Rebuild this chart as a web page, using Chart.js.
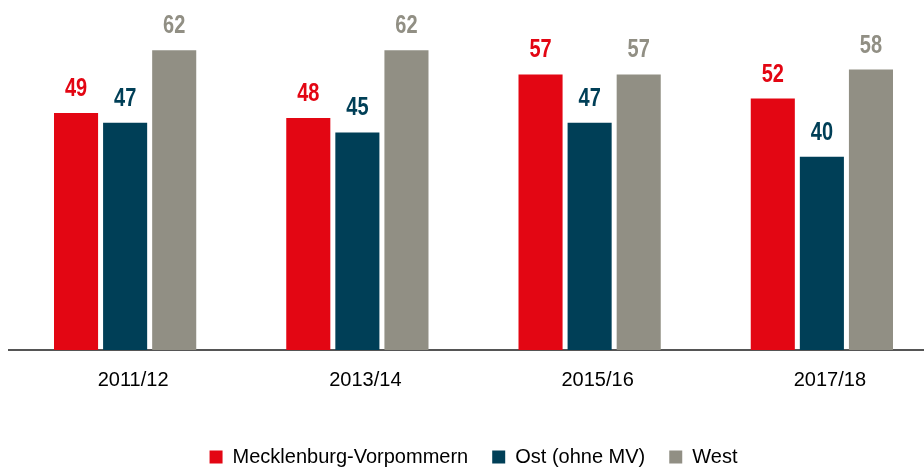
<!DOCTYPE html>
<html lang="de">
<head>
<meta charset="utf-8">
<script src="https://cdn.jsdelivr.net/npm/chart.js@4.4.0/dist/chart.umd.min.js"></script>
<style>
  html, body { margin: 0; padding: 0; background: #fff; overflow: hidden; }
  #wrap { width: 938px; height: 467px; position: relative; }
</style>
</head>
<body>
<div id="wrap"><canvas id="chart"></canvas></div>
<script>
// Daten
const categories = ['2011/12', '2013/14', '2015/16', '2017/18'];
const seriesNames = ['Mecklenburg-Vorpommern', 'Ost (ohne MV)', 'West'];
const mvValues = [49, 48, 57, 52];
const ostValues = [47, 45, 47, 40];
const westValues = [62, 62, 57, 58];
const colors = ['#e30613', '#003f57', '#918f84'];

const FONT = '"Liberation Sans Narrow", "Arial Narrow", "Liberation Sans", Arial, sans-serif';

// Werte über den Balken (schmal gestaucht wie Arial Narrow)
const barLabels = {
    id: 'barLabels',
    afterDatasetsDraw(chart) {
        const ctx = chart.ctx;
        chart.data.datasets.forEach((ds, i) => {
            chart.getDatasetMeta(i).data.forEach((bar, j) => {
                ctx.save();
                ctx.font = 'bold 25px ' + FONT;
                ctx.textAlign = 'center';
                ctx.textBaseline = 'alphabetic';
                ctx.fillStyle = ds.backgroundColor;
                ctx.translate(bar.x, bar.y - 17);
                ctx.scale(0.8, 1);
                ctx.fillText(ds.data[j], 0, 0);
                ctx.restore();
            });
        });
    }
};

const ctx = document.getElementById('chart').getContext('2d');
new Chart(ctx, {
    type: 'bar',
    data: {
        labels: categories,
        datasets: [
            { label: seriesNames[0], data: mvValues, backgroundColor: colors[0] },
            { label: seriesNames[1], data: ostValues, backgroundColor: colors[1] },
            { label: seriesNames[2], data: westValues, backgroundColor: colors[2] }
        ]
    },
    options: {
        responsive: true,
        maintainAspectRatio: false,
        animation: false,
        layout: { padding: { left: 9, right: 0, top: 0, bottom: -10 } },
        datasets: {
            bar: { barPercentage: 0.898, categoryPercentage: 0.634 }
        },
        plugins: {
            legend: {
                position: 'bottom',
                labels: {
                    boxWidth: 13,
                    boxHeight: 13,
                    padding: 24,
                    color: '#000',
                    font: { family: FONT, size: 20 }
                }
            },
            tooltip: { enabled: false }
        },
        scales: {
            x: {
                grid: { display: false },
                border: { display: true, color: '#555555', width: 2 },
                ticks: { color: '#000', padding: 10, labelOffset: 8, font: { family: FONT, size: 20 } },
                afterFit(scale) { scale.height += 21; }
            },
            y: { display: false, min: 0, max: 72.4 }
        }
    },
    plugins: [barLabels]
});
</script>
</body>
</html>
